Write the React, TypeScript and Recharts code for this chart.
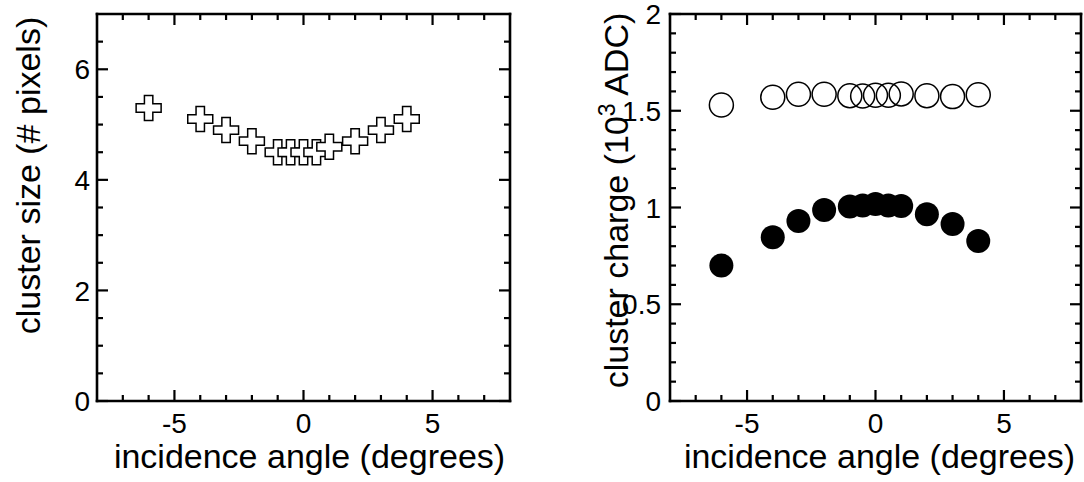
import React from 'react';
import { ScatterChart, Scatter, XAxis, YAxis } from 'recharts';

// ---- data ----
const angles = [-6, -4, -3, -2, -1, -0.5, 0, 0.5, 1, 2, 3, 4];
const clusterSize = [5.3, 5.1, 4.9, 4.7, 4.5, 4.5, 4.5, 4.5, 4.6, 4.7, 4.9, 5.1];
const chargeOpen = [1.53, 1.57, 1.585, 1.585, 1.578, 1.576, 1.58, 1.58, 1.587, 1.578, 1.573, 1.583];
const chargeFilled = [0.7, 0.846, 0.93, 0.987, 1.005, 1.01, 1.018, 1.01, 1.008, 0.965, 0.915, 0.827];

const xTicks = [-7, -6, -5, -4, -3, -2, -1, 0, 1, 2, 3, 4, 5, 6, 7];
const xMajor = [-5, 0, 5];
const sizeTicks = [0, 0.5, 1, 1.5, 2, 2.5, 3, 3.5, 4, 4.5, 5, 5.5, 6, 6.5];
const sizeMajor = [0, 2, 4, 6];
const chargeTicks = [0, 0.1, 0.2, 0.3, 0.4, 0.5, 0.6, 0.7, 0.8, 0.9, 1, 1.1, 1.2, 1.3, 1.4, 1.5, 1.6, 1.7, 1.8, 1.9, 2];
const chargeMajor = [0, 0.5, 1, 1.5, 2];

const xTitle = 'incidence angle (degrees)';
const sizeTitle = 'cluster size (# pixels)';
const chargeTitleA = 'cluster charge (10';
const chargeTitleSup = '3';
const chargeTitleB = ' ADC)';

const sizeData = angles.map((a, i) => ({ angle: a, v: clusterSize[i] }));
const openData = angles.map((a, i) => ({ angle: a, v: chargeOpen[i] }));
const filledData = angles.map((a, i) => ({ angle: a, v: chargeFilled[i] }));

const FONT = '"Liberation Sans", Arial, Helvetica, sans-serif';
const TICK_FS = 28;
const TITLE_FS = 34;

type Side = 'bottom' | 'top' | 'left' | 'right';

const makeTick = (side: Side, majors: number[], labelled: boolean, gap: number) => (props: any) => {
  const { x, y, payload } = props;
  const v = payload.value as number;
  const isMajor = majors.some((m) => Math.abs(m - v) < 1e-9);
  const len = isMajor ? 11 : 6;
  let line: React.ReactNode = null;
  if (side === 'bottom') line = <line x1={x} y1={y} x2={x} y2={y - len} />;
  if (side === 'top') line = <line x1={x} y1={y} x2={x} y2={y + len} />;
  if (side === 'left') line = <line x1={x} y1={y} x2={x + len} y2={y} />;
  if (side === 'right') line = <line x1={x} y1={y} x2={x - len} y2={y} />;
  let label: React.ReactNode = null;
  if (labelled && isMajor) {
    if (side === 'bottom')
      label = (
        <text x={x} y={y + 32} textAnchor="middle" fill="#000" stroke="none" fontSize={TICK_FS} fontFamily={FONT}>
          {String(v)}
        </text>
      );
    if (side === 'left')
      label = (
        <text x={x - gap} y={y} dy="0.36em" textAnchor="end" fill="#000" stroke="none" fontSize={TICK_FS} fontFamily={FONT}>
          {String(v)}
        </text>
      );
  }
  return (
    <g>
      <g stroke="#000" strokeWidth={2.2}>{line}</g>
      {label}
    </g>
  );
};

const CrossShape = (props: any) => {
  const { cx, cy } = props;
  const h = 12.5;
  const a = 4.2;
  const d = `M${cx - a},${cy - h}L${cx + a},${cy - h}L${cx + a},${cy - a}L${cx + h},${cy - a}L${cx + h},${cy + a}L${cx + a},${cy + a}L${cx + a},${cy + h}L${cx - a},${cy + h}L${cx - a},${cy + a}L${cx - h},${cy + a}L${cx - h},${cy - a}L${cx - a},${cy - a}Z`;
  return <path d={d} fill="#fff" stroke="#000" strokeWidth={1.5} />;
};

const OpenCircle = (props: any) => (
  <circle cx={props.cx} cy={props.cy} r={12} fill="none" stroke="#000" strokeWidth={1.5} />
);
const FilledCircle = (props: any) => <circle cx={props.cx} cy={props.cy} r={12} fill="#000" stroke="none" />;

const axisLine = { stroke: '#000', strokeWidth: 2.6, strokeLinecap: 'square' as const };

const XTitle = (dx: number) => (props: any) => {
  const vb = props.viewBox;
  return (
    <text x={vb.x + vb.width / 2 + dx} y={vb.y + 67} textAnchor="middle" fill="#000" fontSize={TITLE_FS} fontFamily={FONT}>
      {xTitle}
    </text>
  );
};

const SizeTitle = (props: any) => {
  const vb = props.viewBox;
  const x = vb.x + 40;
  const y = vb.y + vb.height / 2 - 32;
  return (
    <text x={x} y={y} transform={`rotate(-90 ${x} ${y})`} textAnchor="middle" fill="#000" fontSize={TITLE_FS} fontFamily={FONT}>
      {sizeTitle}
    </text>
  );
};

const ChargeTitle = (props: any) => {
  const vb = props.viewBox;
  const x = vb.x + 86;
  const y = vb.y + vb.height / 2 - 7;
  return (
    <text x={x} y={y} transform={`rotate(-90 ${x} ${y})`} textAnchor="middle" fill="#000" fontSize={TITLE_FS} fontFamily={FONT}>
      <tspan>{chargeTitleA}</tspan>
      <tspan dy={-13} fontSize={23}>{chargeTitleSup}</tspan>
      <tspan dy={13}>{chargeTitleB}</tspan>
    </text>
  );
};

const Frame = (props: { yTicks: number[]; yMajors: number[]; yDomain: [number, number]; leftGap: number; xTitleDx: number; yTitle: any; yWidth: number }) => [
  <XAxis
    key="xb"
    xAxisId={0}
    type="number"
    dataKey="angle"
    domain={[-8, 8]}
    allowDataOverflow
    ticks={xTicks}
    interval={0}
    height={81}
    tickSize={0}
    tickMargin={0}
    tickLine={false}
    axisLine={axisLine}
    tick={makeTick('bottom', xMajor, true, 0)}
    label={{ content: XTitle(props.xTitleDx) }}
  />,
  <XAxis
    key="xt"
    xAxisId="top"
    orientation="top"
    type="number"
    dataKey="angle"
    domain={[-8, 8]}
    allowDataOverflow
    ticks={xTicks}
    interval={0}
    height={1}
    tickSize={0}
    tickMargin={0}
    tickLine={false}
    axisLine={axisLine}
    tick={makeTick('top', xMajor, false, 0)}
  />,
  <YAxis
    key="yl"
    yAxisId={0}
    type="number"
    domain={props.yDomain}
    allowDataOverflow
    ticks={props.yTicks}
    interval={0}
    width={props.yWidth}
    tickSize={0}
    tickMargin={0}
    tickLine={false}
    axisLine={axisLine}
    tick={makeTick('left', props.yMajors, true, props.leftGap)}
    label={{ content: props.yTitle }}
  />,
  <YAxis
    key="yr"
    yAxisId="right"
    orientation="right"
    type="number"
    domain={props.yDomain}
    allowDataOverflow
    ticks={props.yTicks}
    interval={0}
    width={1}
    tickSize={0}
    tickMargin={0}
    tickLine={false}
    axisLine={axisLine}
    tick={makeTick('right', props.yMajors, false, 0)}
  />,
];

const Empty = () => <g />;

export default function App() {
  return (
    <div style={{ position: 'absolute', left: 0, top: 0, width: 1084, height: 482, background: '#fff' }}>
      <div style={{ position: 'absolute', left: 0, top: 0 }}>
        <ScatterChart width={542} height={482} margin={{ top: 13, right: 31, bottom: 0, left: 0 }}>
          {Frame({
            yTicks: sizeTicks,
            yMajors: sizeMajor,
            yDomain: [0, 7],
            leftGap: 7,
            xTitleDx: 6,
            yTitle: SizeTitle,
            yWidth: 97,
          })}
          <Scatter xAxisId="top" yAxisId="right" data={sizeData} dataKey="v" shape={Empty} isAnimationActive={false} />
          <Scatter data={sizeData} dataKey="v" shape={CrossShape} isAnimationActive={false} />
        </ScatterChart>
      </div>
      <div style={{ position: 'absolute', left: 542, top: 0 }}>
        <ScatterChart width={542} height={482} margin={{ top: 13, right: 2, bottom: 0, left: 0 }}>
          {Frame({
            yTicks: chargeTicks,
            yMajors: chargeMajor,
            yDomain: [0, 2],
            leftGap: 9,
            xTitleDx: 4,
            yTitle: ChargeTitle,
            yWidth: 128,
          })}
          <Scatter xAxisId="top" yAxisId="right" data={openData} dataKey="v" shape={Empty} isAnimationActive={false} />
          <Scatter data={openData} dataKey="v" shape={OpenCircle} isAnimationActive={false} />
          <Scatter data={filledData} dataKey="v" shape={FilledCircle} isAnimationActive={false} />
        </ScatterChart>
      </div>
    </div>
  );
}
